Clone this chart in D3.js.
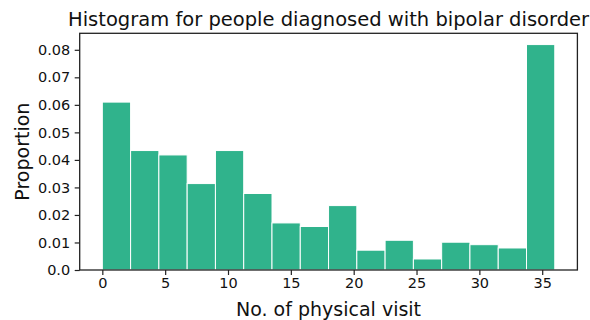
<!DOCTYPE html>
<html><head><meta charset="utf-8">
<script src="https://cdn.jsdelivr.net/npm/d3@7"></script>
<style>body{margin:0;background:#fff}svg{display:block}text{font-family:"DejaVu Sans",sans-serif;fill:#111}</style>
</head><body><svg width="590" height="320"></svg>
<script>
const binEdges = [0,2.25,4.5,6.75,9,11.25,13.5,15.75,18,20.25,22.5,24.75,27,29.25,31.5,33.75,36];
const proportions = [0.0610,0.0434,0.0418,0.0314,0.0434,0.0278,0.0171,0.0158,0.0234,0.0072,0.0108,0.0040,0.0101,0.0092,0.0080,0.0819];
const xTicks = [0,5,10,15,20,25,30,35];
const yTicks = [0,0.01,0.02,0.03,0.04,0.05,0.06,0.07,0.08];
const title = "Histogram for people diagnosed with bipolar disorder";
const xLabel = "No. of physical visit";
const yLabel = "Proportion";

const svg = d3.select("svg");
const L = 79.7, R = 577.4, T = 33.3, B = 270;
const x = d3.scaleLinear().domain([-1.8, 37.8]).range([L, R]);
const y = d3.scaleLinear().domain([0, 0.0819*1.05]).range([B, T]);

const bins = proportions.map((v,i)=>({x0:binEdges[i], x1:binEdges[i+1], v}));
svg.append("g").selectAll("rect").data(bins).join("rect")
  .attr("x", d=>x(d.x0)).attr("width", d=>x(d.x1)-x(d.x0))
  .attr("y", d=>y(d.v)).attr("height", d=>y(0)-y(d.v))
  .attr("fill", "#30b38c").attr("stroke", "#fff").attr("stroke-width", 1);

const xAxis = svg.append("g").attr("transform", `translate(0,${B})`)
  .call(d3.axisBottom(x).tickValues(xTicks).tickFormat(d3.format("d")).tickSize(5).tickPadding(3));
const yAxis = svg.append("g").attr("transform", `translate(${L},0)`)
  .call(d3.axisLeft(y).tickValues(yTicks).tickFormat(d=>d===0?"0.0":d3.format(".2f")(d)).tickSize(5).tickPadding(4.5));
[xAxis,yAxis].forEach(g=>{g.selectAll("path").remove(); g.selectAll("line").attr("stroke","#222").attr("stroke-width",1.2);
  g.selectAll("text").attr("font-size",14.5).attr("font-family","DejaVu Sans").attr("fill","#111");});

svg.append("rect").attr("x",L).attr("y",T).attr("width",R-L).attr("height",B-T)
  .attr("fill","none").attr("stroke","#222").attr("stroke-width",1.3);

svg.append("text").attr("x",(L+R)/2).attr("y",26).attr("text-anchor","middle").attr("font-size",19.5).text(title);
svg.append("text").attr("x",(L+R)/2).attr("y",315.5).attr("text-anchor","middle").attr("font-size",19).text(xLabel);
svg.append("text").attr("transform",`translate(29,${(T+B)/2}) rotate(-90)`).attr("text-anchor","middle").attr("font-size",19).text(yLabel);
</script></body></html>
